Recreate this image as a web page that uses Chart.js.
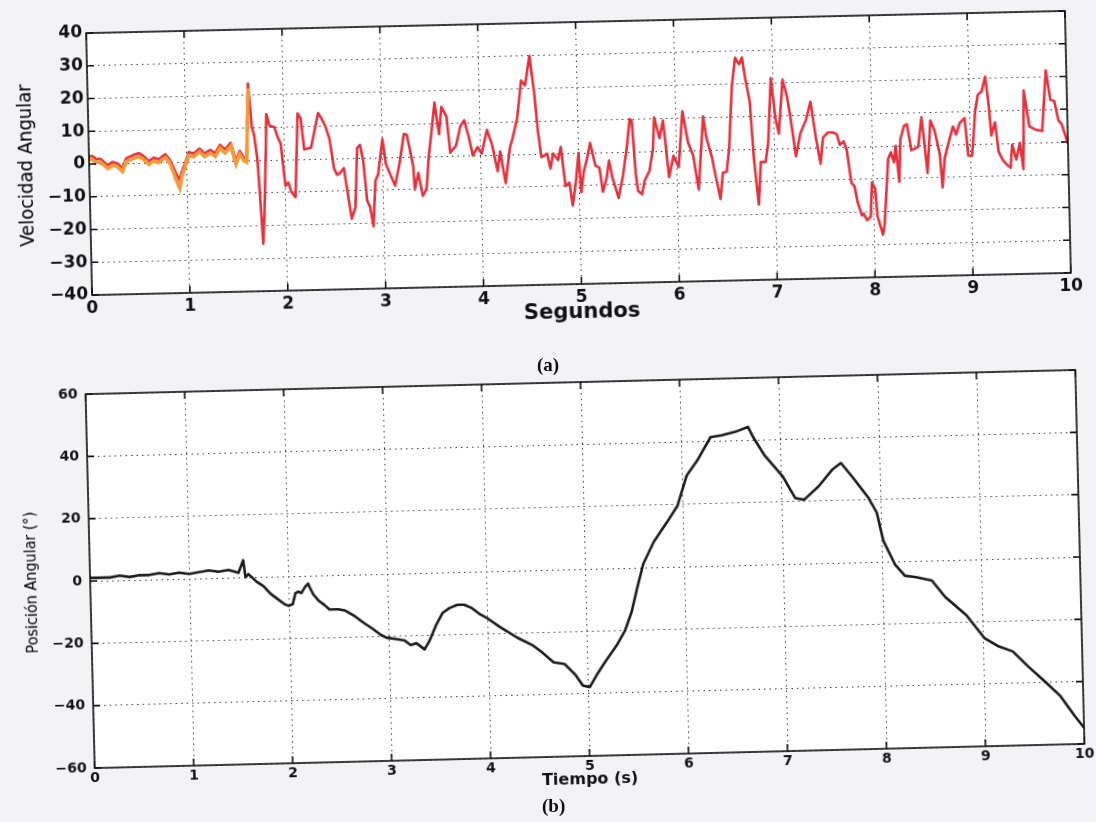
<!DOCTYPE html>
<html>
<head>
<meta charset="utf-8">
<script src="https://cdn.jsdelivr.net/npm/chart.js@4.4.1/dist/chart.umd.min.js"></script>
<style>
  body { margin: 0; width: 1096px; height: 822px; background: #f3f3f5; position: relative; overflow: hidden; }
  .panel { position: absolute; left: 0; width: 1096px; }
  #topWrap { top: 0; height: 330px; transform: rotate(-1.3deg); transform-origin: 578px 153px; }
  #botWrap { top: 350px; height: 472px; transform: rotate(-1.4deg); transform-origin: 585px 219px; }
  .cap { position: absolute; font: bold 19px "Liberation Serif", "DejaVu Serif", serif; color: #111; }
</style>
</head>
<body>
<div class="panel" id="topWrap"><canvas id="velChart" width="1096" height="330"></canvas></div>
<div class="panel" id="botWrap"><canvas id="posChart" width="1096" height="472"></canvas></div>
<div class="cap" style="left:537px;top:354px">(a)</div>
<div class="cap" style="left:542px;top:795px">(b)</div>

<script>
// (a) velocidad angular, segundos
const velTime = [
  0,0.03,0.07,0.12,0.19,0.24,0.29,0.34,0.38,0.46,
  0.51,0.56,0.61,0.66,0.71,0.78,0.82,0.86,0.88,0.92,
  0.95,0.98,1.02,1.07,1.13,1.18,1.24,1.29,1.34,1.39,
  1.45,1.50,1.54,1.58,1.61,1.64,1.67,1.69,1.72,1.74,
  1.76,1.78,1.81,1.82,1.85,1.90,1.93,1.96,2.00,2.03,
  2.06,2.10,2.14,2.17,2.20,2.27,2.35,2.38,2.42,2.46,
  2.50,2.53,2.56,2.60,2.64,2.67,2.71,2.74,2.77,2.80,
  2.83,2.86,2.89,2.92,2.95,3.00,3.03,3.07,3.12,3.17,
  3.22,3.25,3.31,3.32,3.36,3.40,3.44,3.47,3.51,3.54,
  3.58,3.61,3.66,3.69,3.75,3.80,3.84,3.88,3.92,3.97,
  4.01,4.07,4.12,4.17,4.20,4.25,4.30,4.33,4.38,4.43,
  4.47,4.52,4.56,4.59,4.62,4.68,4.71,4.74,4.79,4.82,
  4.86,4.90,4.93,4.97,5.00,5.02,5.05,5.08,5.12,5.17,
  5.21,5.24,5.28,5.31,5.34,5.40,5.45,5.49,5.53,5.55,
  5.58,5.60,5.64,5.67,5.72,5.76,5.78,5.83,5.87,5.92,
  5.97,6.02,6.07,6.12,6.17,6.22,6.28,6.31,6.36,6.40,
  6.44,6.47,6.51,6.54,6.58,6.62,6.66,6.69,6.72,6.76,
  6.79,6.83,6.86,6.91,6.94,6.98,7.02,7.05,7.10,7.14,
  7.17,7.22,7.27,7.33,7.38,7.43,7.47,7.50,7.55,7.60,
  7.64,7.67,7.71,7.74,7.78,7.81,7.84,7.88,7.90,7.93,
  7.97,7.99,8.02,8.04,8.09,8.11,8.16,8.19,8.22,8.24,
  8.27,8.29,8.33,8.36,8.40,8.47,8.51,8.53,8.56,8.60,
  8.64,8.69,8.71,8.74,8.78,8.83,8.86,8.90,8.95,8.98,
  9.02,9.06,9.09,9.13,9.17,9.20,9.22,9.26,9.29,9.33,
  9.37,9.41,9.43,9.47,9.51,9.54,9.56,9.61,9.67,9.74,
  9.79,9.83,9.87,9.91,9.94,10
];
const velRed = [
  2,2.5,1.5,1.5,-0.5,0.5,0,-1.5,1.5,2.5,
  3,2,0.5,1.5,1,2.5,1,-1.5,-3,-5.5,
  -2.5,-0.5,3,2.5,4,2.5,3.5,2.5,5,3.5,
  5.5,0,3,1,0.5,23.5,10,8,0,-12,
  -25.5,-16,5,14,10.5,10,7,5,-8,-7,
  -10,-11.5,14,12.5,3,3.5,14,12.5,10,6,
  -3,-5,-4.5,-3,-12,-18.5,-15,3,4,-1,
  -13,-15,-21,-7,-5,5.6,-2,-5,-8.7,-2,
  7,6.7,-3,-10,-5,-12,-10,0,9,16.4,
  6.7,15,12,1,3,9,10.8,6,0,2.5,
  0.5,7.7,3,-5,1,-8.7,2,5,10.8,22.5,
  21,30,19,7,-1,0,-4.6,0,-2,2,
  -10,-9,-16,-8,0,-12,-5.6,-2.5,3,-4,
  -4.6,-12,-8,-2.5,-7.7,-14,-7,0.5,10,9.5,
  -6.7,-12,-13,-8.8,-6,0.5,10.3,4,9.3,-8,
  -1.5,-5,12,2.5,-1.5,-12,10.3,3.6,-2,-8.8,
  -15,-7,-6.7,0.5,19,28,26,28,21.5,14.5,
  -3,-17,-4,-4,2,21.5,9,4.5,21,16,
  10,-2.5,4.5,8.5,14,2.5,-5,3,4.5,4.5,
  4,0.7,1.7,-1,-11,-12,-17,-21,-20.5,-22.5,
  -21.5,-11,-13,-21.5,-27,-24,-4,-2,-5,0,
  -11,2,6,6.5,-1.5,-0.5,8.5,2,-8.5,7.5,
  4.5,-3,-13,-4,0.5,5.5,3,6.5,8,-3.5,
  -3.5,10,15,16,20.5,11.5,2.5,6.5,-2.5,-5,
  -6.5,-7.5,-0.5,-5,0,-8,16,5,4,3.5,
  22,13,12.5,6.5,5.5,-0.5
];
// second (orange) trace, only visible apart from the red one before 1.65 s
const velOrange = [
  1.5,1.5,0.5,0.5,-1.5,-0.5,-1,-2.5,0.5,1.5,
  2,1,-0.5,0.5,0,1.5,0,-3,-5,-8,
  -4,-1.5,2,1.5,3,1.5,2.5,1.5,4,2.5,
  4.5,-1,2,0,-0.5,22
];
const velTicks = [-40, -30, -20, -10, 0, 10, 20, 30, 40];

// (b) posición angular, tiempo (s)
const posTime = [
  0,0.1,0.2,0.3,0.4,0.5,0.6,0.7,0.8,0.9,1.0,1.1,1.2,1.3,1.4,1.5,
  1.55,1.57,1.6,1.68,1.75,1.82,1.9,1.96,
  2.0,2.04,2.07,2.1,2.13,2.17,2.2,2.22,2.25,2.3,2.36,2.41,
  2.5,2.57,2.65,2.75,2.84,2.92,2.98,
  3.08,3.16,3.22,3.28,3.36,3.41,3.48,3.55,3.62,3.7,3.77,3.84,3.92,
  4.0,4.13,4.3,4.45,4.55,4.66,4.77,4.88,4.95,
  5.02,5.09,5.18,5.3,5.39,5.46,5.52,5.59,5.7,5.84,5.95,
  6.05,6.16,6.3,6.41,6.55,6.68,6.73,6.84,
  7.02,7.14,7.23,7.38,7.52,7.61,7.73,7.88,7.96,
  8.02,8.13,8.23,8.34,8.5,8.63,8.84,
  9.02,9.16,9.3,9.45,9.63,9.77,9.91,10
];
const posAngle = [
  1,1,1,1.5,1,1.5,1.5,2,1.5,2,1.5,2,2.5,2,2.5,1.5,
  5.5,0,1,-1.5,-3,-5.5,-7.5,-9,
  -9.5,-9,-5.5,-5,-5.5,-3.5,-2.5,-4,-6,-8,-9.5,-11,
  -11,-11.5,-13,-15.5,-17.5,-19.5,-20.5,
  -21,-21.5,-23,-22.5,-24.5,-22,-17,-13,-11.5,-10.5,-10.5,-11.5,-13.5,
  -15,-18,-21.5,-24,-26.5,-29.7,-30.3,-34,-37.4,
  -37.9,-34.2,-30,-24.8,-20,-14.2,-6.8,1.2,8.1,14.4,19.6,
  29.2,33.9,41.3,41.8,42.8,44.3,41,35.1,
  28.1,21.1,20.5,24.7,29.9,32,27.1,20.6,15.8,
  6.7,-0.9,-4.7,-5.2,-6.4,-11.8,-17.8,
  -25.4,-28.1,-29.8,-34.7,-40.1,-44.5,-51,-54.8
];

const toPoints = (xs, ys) => ys.map((y, i) => ({ x: xs[i], y }));
const minus = (v) => String(v).replace("-", "\u2212");

// white axes area, black box and inward ticks like the matlab figure
const matlabBox = {
  id: "matlabBox",
  beforeDraw(chart) {
    const { ctx, chartArea: a } = chart;
    ctx.save();
    ctx.fillStyle = "#ffffff";
    ctx.fillRect(a.left, a.top, a.right - a.left, a.bottom - a.top);
    ctx.restore();
  },
  afterDraw(chart) {
    const { ctx, chartArea: a, scales } = chart;
    const len = 7;
    ctx.save();
    ctx.strokeStyle = "#111";
    ctx.lineWidth = 1.6;
    ctx.strokeRect(a.left, a.top, a.right - a.left, a.bottom - a.top);
    ctx.beginPath();
    scales.x.ticks.forEach((t) => {
      const px = scales.x.getPixelForValue(t.value);
      ctx.moveTo(px, a.bottom); ctx.lineTo(px, a.bottom - len);
      ctx.moveTo(px, a.top); ctx.lineTo(px, a.top + len);
    });
    scales.y.ticks.forEach((t) => {
      const py = scales.y.getPixelForValue(t.value);
      ctx.moveTo(a.left, py); ctx.lineTo(a.left + len, py);
      ctx.moveTo(a.right, py); ctx.lineTo(a.right - len, py);
    });
    ctx.stroke();
    ctx.restore();
  }
};

const gridOpts = { color: "#3a3a3a", lineWidth: 1, drawTicks: false };
const borderOpts = { display: false, dash: [1.5, 4] };
const narrow = "'DejaVu Sans Condensed', 'Liberation Sans', sans-serif";

new Chart(document.getElementById("velChart"), {
  type: "line",
  data: {
    datasets: [
      {
        data: toPoints(velTime, velOrange),
        borderColor: "#f39a3a",
        borderWidth: 3.6,
        pointRadius: 0,
        tension: 0
      },
      {
        data: toPoints(velTime, velRed),
        borderColor: "#e6303c",
        borderWidth: 2.6,
        pointRadius: 0,
        tension: 0,
        borderJoinStyle: "round"
      }
    ]
  },
  options: {
    responsive: false,
    animation: false,
    layout: { padding: { top: 22, right: 28, left: 0, bottom: 0 } },
    plugins: { legend: { display: false }, tooltip: { enabled: false } },
    scales: {
      x: {
        type: "linear",
        min: 0,
        max: 10,
        ticks: { stepSize: 1, padding: 3, color: "#111", font: { family: "DejaVu Sans", weight: "bold", size: 17 } },
        grid: gridOpts,
        border: borderOpts,
        title: { display: true, text: "Segundos", color: "#111", padding: { bottom: 5 }, font: { family: "DejaVu Sans", weight: "bold", size: 21 } },
        afterFit: (s) => { s.height = 46; }
      },
      y: {
        min: -40,
        max: 40,
        afterBuildTicks: (s) => { s.ticks = velTicks.map((v) => ({ value: v })); },
        ticks: { padding: 4, color: "#111", callback: minus, font: { family: "DejaVu Sans", weight: "bold", size: 17 } },
        grid: gridOpts,
        border: borderOpts,
        title: { display: true, text: "Velocidad Angular", color: "#000", padding: { top: 15 }, font: { family: narrow, size: 20 } },
        afterFit: (s) => { s.width = 89; }
      }
    }
  },
  plugins: [matlabBox]
});

new Chart(document.getElementById("posChart"), {
  type: "line",
  data: {
    datasets: [
      {
        data: toPoints(posTime, posAngle),
        borderColor: "#1c1c1c",
        borderWidth: 2.6,
        pointRadius: 0,
        tension: 0,
        borderJoinStyle: "round"
      }
    ]
  },
  options: {
    responsive: false,
    animation: false,
    layout: { padding: { top: 32, right: 16, left: 0, bottom: 0 } },
    plugins: { legend: { display: false }, tooltip: { enabled: false } },
    scales: {
      x: {
        type: "linear",
        min: 0,
        max: 10,
        ticks: { stepSize: 1, padding: 2, color: "#111", font: { family: "DejaVu Sans", weight: "bold", size: 14 } },
        grid: gridOpts,
        border: borderOpts,
        title: { display: true, text: "Tiempo (s)", color: "#111", padding: { bottom: 33 }, font: { family: "DejaVu Sans", weight: "bold", size: 16 } },
        afterFit: (s) => { s.height = 66; }
      },
      y: {
        min: -60,
        max: 60,
        ticks: { stepSize: 20, padding: 8, color: "#111", callback: minus, font: { family: "DejaVu Sans", weight: "bold", size: 14 } },
        grid: gridOpts,
        border: borderOpts,
        title: { display: true, text: "Posición Angular (°)", color: "#000", padding: { top: 22 }, font: { family: narrow, size: 16 } },
        afterFit: (s) => { s.width = 90; }
      }
    }
  },
  plugins: [matlabBox]
});
</script>
</body>
</html>
